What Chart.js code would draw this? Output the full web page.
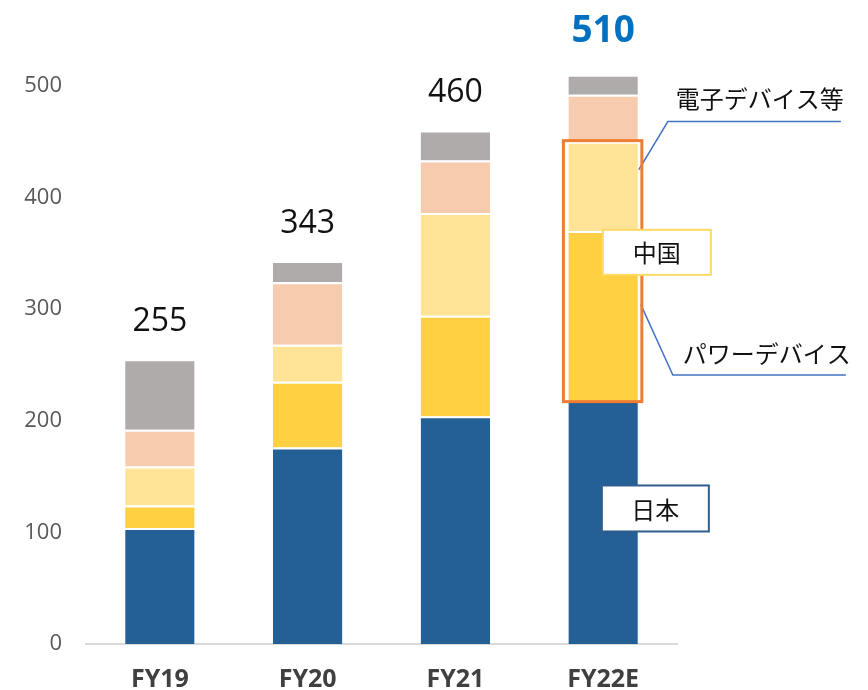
<!DOCTYPE html>
<html><head><meta charset="utf-8">
<script src="https://cdn.jsdelivr.net/npm/chart.js@4/dist/chart.umd.min.js"></script>
<style>html,body{margin:0;padding:0;background:#fff}#wrap{width:868px;height:690px;position:relative}</style>
</head><body><div id="wrap"><canvas id="c" width="868" height="690"></canvas></div>
<script>
const categories = ['FY19', 'FY20', 'FY21', 'FY22E'];
const japan = [104, 176, 204, 218];
const chinaPower = [20, 59, 90, 152];
const chinaElectronic = [35, 33, 92, 80];
const otherA = [33, 56, 47, 42];
const otherB = [63, 19, 27, 18];
const totals = [255, 343, 460, 510];
const yTicks = [0, 100, 200, 300, 400, 500];
const calloutLabels = ['電子デバイス等', 'パワーデバイス'];
const boxLabels = ['中国', '日本'];

const NUM_FONT = '"Open Sans", "Liberation Sans", sans-serif';
const JP_FONT = '"Noto Sans CJK JP", sans-serif';

const annot = {
  id: 'annot',
  afterDatasetsDraw(chart) {
    const ctx = chart.ctx;
    const y = chart.scales.y;
    const last = categories.length - 1;
    totals.forEach((t, i) => {
      const bar = chart.getDatasetMeta(0).data[i];
      const top = y.getPixelForValue(t);
      ctx.save();
      ctx.textAlign = 'center';
      ctx.textBaseline = 'alphabetic';
      if (i === last) {
        ctx.fillStyle = '#0070C0';
        ctx.font = 'bold 37px ' + NUM_FONT;
        ctx.fillText(String(t), bar.x, top - 33);
      } else {
        ctx.fillStyle = '#111111';
        ctx.font = '32px ' + NUM_FONT;
        ctx.fillText(String(t), bar.x, top - 28);
      }
      ctx.restore();
    });
    const pBar = chart.getDatasetMeta(1).data[last];
    const eBar = chart.getDatasetMeta(2).data[last];
    const half = pBar.width / 2;
    const right = pBar.x + half;
    ctx.save();
    ctx.strokeStyle = '#4472C4';
    ctx.lineWidth = 1.5;
    ctx.beginPath();
    ctx.moveTo(right + 1, y.getPixelForValue(425));
    ctx.lineTo(right + 30, y.getPixelForValue(468));
    ctx.lineTo(right + 203, y.getPixelForValue(468));
    ctx.stroke();
    ctx.beginPath();
    ctx.moveTo(right + 3, y.getPixelForValue(304));
    ctx.lineTo(right + 35, y.getPixelForValue(241));
    ctx.lineTo(right + 208, y.getPixelForValue(241));
    ctx.stroke();
    ctx.restore();
    ctx.save();
    ctx.fillStyle = '#111111';
    ctx.font = '24px ' + JP_FONT;
    ctx.textBaseline = 'middle';
    ctx.textAlign = 'left';
    ctx.fillText(calloutLabels[0], right + 38, y.getPixelForValue(488));
    ctx.fillText(calloutLabels[1], right + 45, y.getPixelForValue(260));
    ctx.restore();
    ctx.save();
    ctx.strokeStyle = '#ED7D31';
    ctx.lineWidth = 3;
    const rTop = eBar.y - 1;
    const rBot = pBar.base + 1;
    ctx.strokeRect(pBar.x - half - 5, rTop, pBar.width + 9, rBot - rTop);
    ctx.restore();
    drawBox(ctx, boxLabels[0], right - 35, y.getPixelForValue(371), 108, 45, '#FFD966');
    drawBox(ctx, boxLabels[1], right - 36, y.getPixelForValue(142), 107, 46, '#2F5E8E');
  }
};
function drawBox(ctx, text, x, top, w, h, color) {
  ctx.save();
  ctx.fillStyle = '#ffffff';
  ctx.fillRect(x, top, w, h);
  ctx.strokeStyle = color;
  ctx.lineWidth = 2;
  ctx.strokeRect(x, top, w, h);
  ctx.fillStyle = '#111111';
  ctx.font = '24px ' + JP_FONT;
  ctx.textAlign = 'center';
  ctx.textBaseline = 'middle';
  ctx.fillText(text, x + w / 2, top + h / 2 + 1);
  ctx.restore();
}

const mk = (label, data, color) => ({
  label, data, backgroundColor: color,
  borderColor: '#ffffff', borderWidth: {top: 2, left: 0, right: 0, bottom: 0},
  borderSkipped: false,
  barPercentage: 0.47, categoryPercentage: 1.0
});

new Chart(document.getElementById('c'), {
  type: 'bar',
  data: {
    labels: categories,
    datasets: [
      mk('日本', japan, '#245F95'),
      mk('中国 パワーデバイス', chinaPower, '#FFD142'),
      mk('中国 電子デバイス等', chinaElectronic, '#FFE396'),
      mk('その他A', otherA, '#F7CBAE'),
      mk('その他B', otherB, '#AFABAA')
    ]
  },
  options: {
    responsive: false,
    animation: false,
    devicePixelRatio: 1,
    layout: {padding: {top: 30, right: 191, left: 0, bottom: 0}},
    plugins: {legend: {display: false}, tooltip: {enabled: false}},
    scales: {
      x: {
        stacked: true,
        grid: {display: false, drawTicks: false},
        border: {display: true, color: '#D9D9D9', width: 2},
        ticks: {font: {family: NUM_FONT, size: 25, weight: 'bold'}, color: '#404040', padding: 21},
        afterFit(s) { s.height = 46; }
      },
      y: {
        stacked: true,
        min: 0, max: 550,
        grid: {display: false, drawTicks: false},
        border: {display: false},
        afterBuildTicks(s) { s.ticks = yTicks.map(v => ({value: v})); },
        ticks: {font: {family: NUM_FONT, size: 22}, color: '#595959', padding: 24},
        afterFit(s) { s.width = 86; s.paddingTop = 0; s.paddingBottom = 0; }
      }
    }
  },
  plugins: [annot]
});
</script>
</body></html>
